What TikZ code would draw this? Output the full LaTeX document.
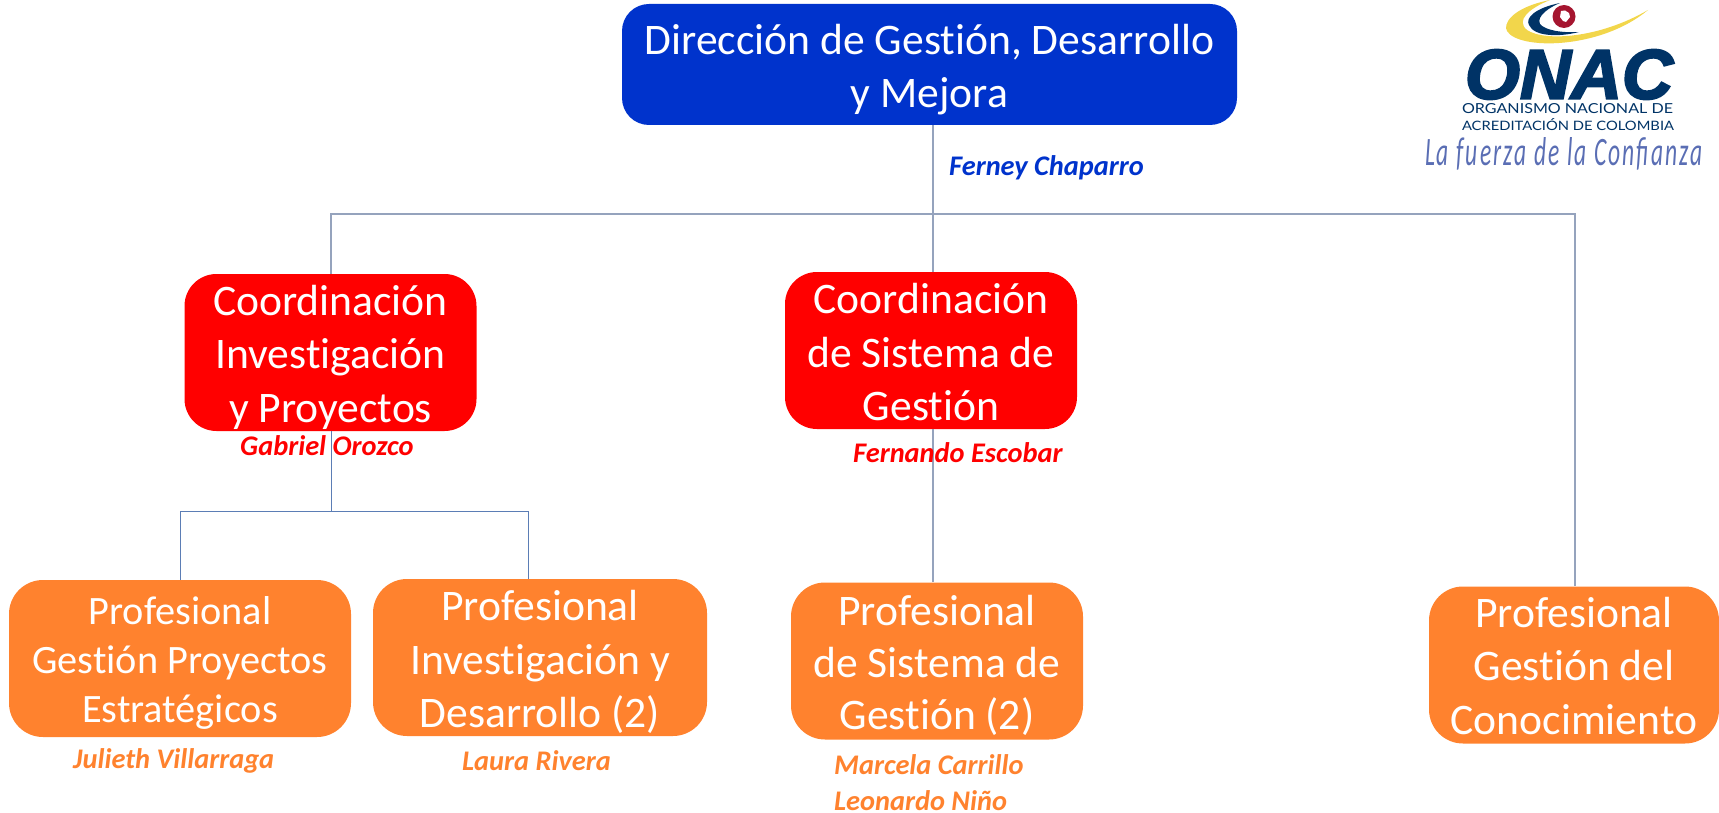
\documentclass[tikz,border=0pt]{standalone}
\usepackage{graphicx}
\usepackage{fontspec}
\setmainfont[Ligatures={NoCommon,NoDiscretionary}]{Carlito}
\newfontfamily\onacf[FakeBold=3]{Liberation Sans}
\newfontfamily\smallf{Lato}
\newfontfamily\tagf[LetterSpace=9]{Carlito}
\definecolor{dirblue}{HTML}{0033CC}
\definecolor{coordred}{HTML}{FF0000}
\definecolor{proforange}{HTML}{FF822E}
\definecolor{linkgrey}{HTML}{95A3BD}
\definecolor{linkblue}{HTML}{5B7DB5}
\definecolor{navy}{HTML}{003366}
\definecolor{swoosh}{HTML}{F2D64B}
\definecolor{maroon}{HTML}{A5152F}
\definecolor{tagblue}{HTML}{5A6EB4}
\newcommand{\dn}[1]{\rule{0pt}{\dimexpr 32pt+2\dimexpr #1pt\relax\relax}}
\tikzset{
  box/.style={inner sep=0pt,align=center,text=white},
  bigtext/.style={font=\fontsize{43.6}{53.5}\selectfont},
  dirbox/.style={box,bigtext,rounded corners=27pt,fill=dirblue,minimum width=615pt,minimum height=121pt},
  coordbox/.style={box,bigtext,rounded corners=32pt,fill=coordred,minimum width=292pt,minimum height=157pt},
  profbox/.style={box,rounded corners=34pt,fill=proforange,minimum height=157pt},
  link/.style={draw=linkgrey,line width=1.2pt},
  sublink/.style={draw=linkblue,line width=1pt},
  person/.style={inner sep=0pt,font=\fontsize{28.4}{28.4}\selectfont\bfseries\itshape},
}
\begin{document}
\begin{tikzpicture}[x=1pt,y=-1pt]
\useasboundingbox (0,0) rectangle (1719,813);
% boxes
\node[dirbox] (dir) at (929.5,64.5) {\dn{4}Dirección de Gestión, Desarrollo\\y Mejora};
\node[coordbox] (cinv) at (330.5,352.5) {\dn{4}Coordinación\\Investigación\\y Proyectos};
\node[coordbox] (csis) at (931,350.5) {\dn{1}Coordinación\\de Sistema de\\Gestión};
\node[profbox,minimum width=342pt,font=\fontsize{40.3}{49}\selectfont] (p1) at (180,658.5) {\dn{2}Profesional\\Gestión Proyectos\\Estratégicos};
\node[profbox,minimum width=334pt,font=\fontsize{43.6}{53.5}\selectfont] (p2) at (540,657.5) {\dn{4}Profesional\\Investigación y\\Desarrollo (2)};
\node[profbox,minimum width=292pt,font=\fontsize{43.6}{52}\selectfont] (p3) at (937,661) {\dn{4}Profesional\\de Sistema de\\Gestión (2)};
\node[profbox,minimum width=290pt,font=\fontsize{43.6}{53.5}\selectfont] (p4) at (1574,665) {\dn{0}Profesional\\Gestión del\\Conocimiento};
% connector junctions
\coordinate (trunk) at (933,214);
\coordinate (busl) at (331,214);
\coordinate (busr) at (1575,214);
\coordinate (subj) at (331,511);
\coordinate (subl) at (180,511);
\coordinate (subr) at (528,511);
% connectors
\draw[link] (dir.south -| trunk) -- (trunk);
\draw[link] (cinv.north -| busl) -- (busl) -- (trunk) -- (busr) -- (p4.north -| busr);
\draw[link] (trunk) -- (csis.north -| trunk);
\draw[link] (csis.south -| trunk) -- (p3.north -| trunk);
\draw[sublink] (cinv.south -| subj) -- (subj);
\draw[sublink] (p1.north -| subl) -- (subl) -- (subr) -- (p2.north -| subr);
% people
\node[person,text=dirblue,anchor=west] (n1) at (949,168) {Ferney Chaparro};
\node[person,text=coordred,anchor=west] (n2) at (240,446) {Gabriel Orozco};
\node[person,text=coordred,anchor=west] (n3) at (853,453) {Fernando Escobar};
\node[person,text=proforange,anchor=west] (n4) at (73,761) {Julieth Villarraga};
\node[person,text=proforange,anchor=west] (n5) at (462,761) {Laura Rivera};
\node[person,text=proforange,anchor=west] (n6) at (834,765) {Marcela Carrillo};
\node[person,text=proforange,anchor=west] (n7) at (834,801) {Leonardo Niño};
% logo
\fill[swoosh] (1550,0) .. controls (1510,8) and (1503,25) .. (1507,31)
  .. controls (1518,50) and (1600,50) .. (1648,10)
  .. controls (1600,38) and (1545,42) .. (1527,30)
  .. controls (1515,20) and (1530,8) .. (1550,0) -- cycle;
\fill[navy] (1560,3) .. controls (1535,8) and (1525,18) .. (1529,25)
  .. controls (1534,37) and (1560,37) .. (1579,32)
  .. controls (1560,33) and (1545,30) .. (1540,24)
  .. controls (1536,16) and (1550,7) .. (1560,3) -- cycle;
\fill[maroon] (1564,16.5) circle (11.5);
\fill[white] (1561,11) -- (1565,10.5) -- (1569,13) -- (1570,17) -- (1566,22) -- (1563,21) -- (1560,17) -- cycle;
\node[inner sep=0pt,text=navy,anchor=center] (onac) at (1569,74.5) {\resizebox{208pt}{49pt}{\onacf\bfseries\itshape ONAC}};
\node[inner sep=0pt,text=navy,anchor=center] (org1) at (1567.5,109) {\resizebox{211pt}{10pt}{\smallf ORGANISMO NACIONAL DE}};
\node[inner sep=0pt,text=navy,anchor=center] (org2) at (1568,124.5) {\resizebox{212pt}{12pt}{\smallf ACREDITACIÓN DE COLOMBIA}};
\node[inner sep=0pt,text=tagblue,anchor=center] (tag) at (1564,154) {\resizebox{278pt}{28pt}{\tagf\itshape La fuerza de la Confianza}};
\end{tikzpicture}
\end{document}
